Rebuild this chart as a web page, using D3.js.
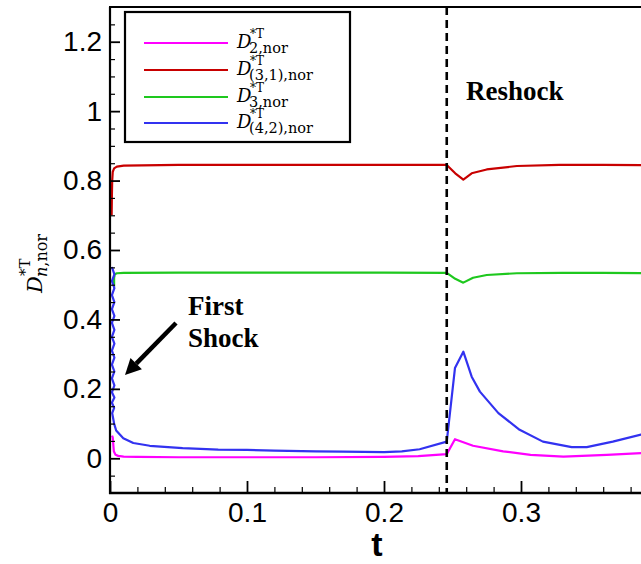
<!DOCTYPE html>
<html>
<head>
<meta charset="utf-8">
<script src="https://cdn.jsdelivr.net/npm/d3@7"></script>
<style>
  html, body { margin: 0; padding: 0; background: #fff; }
  svg { display: block; }
</style>
</head>
<body>
<svg id="chart" width="641" height="564"></svg>
<script>
// ---------------- data ----------------
const xTicks = [0, 0.1, 0.2, 0.3];
const xMinorTicks = [0.02, 0.04, 0.06, 0.08, 0.12, 0.14, 0.16, 0.18, 0.22, 0.24, 0.26, 0.28, 0.32, 0.34, 0.36, 0.38];
const yTicks = [0, 0.2, 0.4, 0.6, 0.8, 1, 1.2];
const yMinorTicks = [-0.05, 0.05, 0.1, 0.15, 0.25, 0.3, 0.35, 0.45, 0.5, 0.55, 0.65, 0.7, 0.75, 0.85, 0.9, 0.95, 1.05, 1.1, 1.15, 1.25];
const reshockT = 0.2458;

const seriesNames = ["D2", "D31", "D3", "D42"];
const seriesColors = ["#ff00ff", "#c80000", "#1ec81e", "#3232f0"];
const legendSubs = ["2,nor", "(3,1),nor", "3,nor", "(4,2),nor"];

const tD2  = [0.0015, 0.002, 0.0028, 0.004, 0.006, 0.01, 0.02, 0.05, 0.1, 0.15, 0.2, 0.225, 0.2458, 0.2518, 0.265, 0.287, 0.307, 0.331, 0.3626, 0.3876, 0.4];
const vD2  = [0.065, 0.06, 0.02, 0.010, 0.007, 0.005, 0.004, 0.003, 0.003, 0.003, 0.004, 0.006, 0.012, 0.055, 0.036, 0.020, 0.010, 0.005, 0.010, 0.015, 0.016];

const tD31 = [0.0012, 0.0014, 0.0016, 0.002, 0.003, 0.005, 0.01, 0.05, 0.1, 0.15, 0.2, 0.2458, 0.252, 0.2579, 0.264, 0.275, 0.297, 0.328, 0.36, 0.4];
const vD31 = [0.70, 0.76, 0.80, 0.825, 0.835, 0.840, 0.843, 0.845, 0.845, 0.845, 0.845, 0.845, 0.821, 0.803, 0.821, 0.832, 0.842, 0.845, 0.845, 0.844];

const tD3  = [0.003, 0.003, 0.0035, 0.005, 0.01, 0.05, 0.1, 0.15, 0.2, 0.2458, 0.252, 0.2579, 0.265, 0.275, 0.297, 0.33, 0.36, 0.4];
const vD3  = [0.494, 0.52, 0.530, 0.533, 0.534, 0.535, 0.535, 0.535, 0.535, 0.534, 0.517, 0.506, 0.520, 0.528, 0.533, 0.534, 0.534, 0.533];

// first-shock oscillation band (dense back-and-forth), then decay
const tD42 = [0.0014, 0.0032, 0.0014, 0.0032, 0.0014, 0.0032, 0.0014, 0.0032, 0.0014, 0.0032, 0.0014, 0.0032, 0.0014, 0.0032, 0.0014, 0.0032, 0.0014, 0.0032, 0.0014, 0.0032, 0.0014, 0.0030, 0.0016, 0.003, 0.0045, 0.0097, 0.017, 0.029, 0.053, 0.079, 0.1, 0.12, 0.15, 0.17, 0.2, 0.213, 0.226, 0.2458, 0.2518, 0.2579, 0.264, 0.270, 0.2835, 0.299, 0.316, 0.337, 0.348, 0.367, 0.3876, 0.4];
const vD42 = [0.551, 0.53, 0.51, 0.49, 0.47, 0.45, 0.43, 0.41, 0.39, 0.37, 0.35, 0.33, 0.31, 0.29, 0.27, 0.25, 0.23, 0.21, 0.19, 0.175, 0.16, 0.145, 0.13, 0.10, 0.080, 0.058, 0.044, 0.036, 0.029, 0.025, 0.024, 0.022, 0.020, 0.019, 0.018, 0.020, 0.026, 0.048, 0.26, 0.307, 0.235, 0.192, 0.130, 0.082, 0.048, 0.032, 0.032, 0.048, 0.068, 0.078];

const seriesT = [tD2, tD31, tD3, tD42];
const seriesV = [vD2, vD31, vD3, vD42];

// ---------------- layout ----------------
const svg = d3.select("#chart");
const x = d3.scaleLinear().domain([0, 0.4]).range([110, 658]);
const y = d3.scaleLinear().domain([-0.1, 1.3]).range([493, 7]);
const fmt = d => String(+d.toFixed(2));

svg.append("defs").append("clipPath").attr("id", "plotclip")
  .append("rect").attr("x", x(0)).attr("y", y(1.3)).attr("width", x(0.4) - x(0)).attr("height", y(-0.1) - y(1.3));

// curves
const line = d3.line().x(d => x(d[0])).y(d => y(d[1]));
const curves = svg.append("g").attr("clip-path", "url(#plotclip)");
seriesNames.forEach((name, i) => {
  const pts = seriesT[i].map((t, j) => [t, seriesV[i][j]]);
  curves.append("path").datum(pts)
    .attr("d", line)
    .attr("fill", "none")
    .attr("stroke", seriesColors[i])
    .attr("stroke-width", 2.2)
    .attr("stroke-linejoin", "round");
});

// reshock dashed line
svg.append("line")
  .attr("x1", x(reshockT)).attr("x2", x(reshockT))
  .attr("y1", y(1.3)).attr("y2", y(-0.1))
  .attr("stroke", "#000").attr("stroke-width", 2.6)
  .attr("stroke-dasharray", "8,5");

// axes
const tickFont = "'Liberation Sans', Arial, sans-serif";
const yAxis = svg.append("g").attr("transform", `translate(${x(0)},0)`)
  .call(d3.axisLeft(y).tickValues(yTicks).tickFormat(fmt).tickSize(-10).tickPadding(8).tickSizeOuter(0));
const yMinor = svg.append("g").attr("transform", `translate(${x(0)},0)`)
  .call(d3.axisLeft(y).tickValues(yMinorTicks).tickFormat("").tickSize(-5).tickSizeOuter(0));
const xAxis = svg.append("g").attr("transform", `translate(0,${y(-0.1)})`)
  .call(d3.axisBottom(x).tickValues(xTicks).tickFormat(fmt).tickSize(-12).tickPadding(9).tickSizeOuter(0));
const xMinor = svg.append("g").attr("transform", `translate(0,${y(-0.1)})`)
  .call(d3.axisBottom(x).tickValues(xMinorTicks).tickFormat("").tickSize(-6).tickSizeOuter(0));

[yAxis, yMinor, xAxis, xMinor].forEach(g => {
  g.select(".domain").remove();
  g.selectAll(".tick line").attr("stroke", "#000").attr("stroke-width", 1.8);
  g.selectAll(".tick text").attr("font-family", tickFont).attr("font-size", 28).attr("fill", "#000");
});
yMinor.selectAll(".tick line").attr("stroke-width", 1.2);
xMinor.selectAll(".tick line").attr("stroke-width", 1.2);
xAxis.selectAll(".tick text").attr("dy", "0.71em");

// frame
svg.append("line").attr("x1", x(0)).attr("x2", x(0)).attr("y1", y(1.3)).attr("y2", y(-0.1) + 1)
  .attr("stroke", "#000").attr("stroke-width", 2.2);
svg.append("line").attr("x1", x(0) - 1).attr("x2", x(0.4)).attr("y1", y(-0.1)).attr("y2", y(-0.1))
  .attr("stroke", "#000").attr("stroke-width", 2.6);
svg.append("line").attr("x1", x(0) - 1).attr("x2", x(0.4)).attr("y1", y(1.3)).attr("y2", y(1.3))
  .attr("stroke", "#000").attr("stroke-width", 2);

// x label
svg.append("text").attr("x", 377).attr("y", 556)
  .attr("text-anchor", "middle").attr("font-family", tickFont)
  .attr("font-weight", "bold").attr("font-size", 34).text("t");

// y label (rotated)
const mathFont = "'DejaVu Serif', 'Liberation Serif', serif";
const yl = svg.append("g").attr("transform", "translate(42,293) rotate(-90)");
yl.append("text").attr("x", 0).attr("y", 0).attr("font-family", mathFont)
  .attr("font-style", "italic").attr("font-size", 21).text("D");
yl.append("text").attr("x", 17).attr("y", -12).attr("font-family", mathFont)
  .attr("font-size", 15).text("*T");
const ysub = yl.append("text").attr("x", 16).attr("y", 5).attr("font-family", mathFont).attr("font-size", 16);
ysub.append("tspan").attr("font-style", "italic").text("n");
ysub.append("tspan").text(",nor");

// legend
svg.append("rect").attr("x", 125).attr("y", 12).attr("width", 225).attr("height", 130)
  .attr("fill", "#fff").attr("stroke", "#000").attr("stroke-width", 2.2);
const legendY = [43, 70, 97, 123];
seriesNames.forEach((name, i) => {
  const ly = legendY[i];
  svg.append("line").attr("x1", 144).attr("x2", 228).attr("y1", ly).attr("y2", ly)
    .attr("stroke", seriesColors[i]).attr("stroke-width", 2.2);
  svg.append("text").attr("x", 237).attr("y", ly + 5).attr("font-family", mathFont)
    .attr("font-style", "italic").attr("font-size", 18).text("D");
  svg.append("text").attr("x", 250).attr("y", ly - 5).attr("font-family", mathFont)
    .attr("font-size", 12).text("*T");
  svg.append("text").attr("x", 249).attr("y", ly + 10).attr("font-family", mathFont)
    .attr("font-size", 14.5).text(legendSubs[i]);
});

// annotations
const annFont = "'Liberation Serif', 'Times New Roman', serif";
svg.append("text").attr("x", 466).attr("y", 100).attr("font-family", annFont)
  .attr("font-weight", "bold").attr("font-size", 27).text("Reshock");
svg.append("text").attr("x", 188).attr("y", 315).attr("font-family", annFont)
  .attr("font-weight", "bold").attr("font-size", 27).text("First");
svg.append("text").attr("x", 188).attr("y", 347).attr("font-family", annFont)
  .attr("font-weight", "bold").attr("font-size", 27).text("Shock");

// arrow
const ax1 = 176, ay1 = 323, ax2 = 125, ay2 = 375;
const ang = Math.atan2(ay2 - ay1, ax2 - ax1);
const headLen = 16, headW = 8;
const bx = ax2 - headLen * Math.cos(ang), by = ay2 - headLen * Math.sin(ang);
svg.append("line").attr("x1", ax1).attr("y1", ay1).attr("x2", bx).attr("y2", by)
  .attr("stroke", "#000").attr("stroke-width", 4.5);
svg.append("path")
  .attr("d", `M${ax2},${ay2} L${bx + headW * Math.sin(ang)},${by - headW * Math.cos(ang)} L${bx - headW * Math.sin(ang)},${by + headW * Math.cos(ang)} Z`)
  .attr("fill", "#000");
</script>
</body>
</html>
